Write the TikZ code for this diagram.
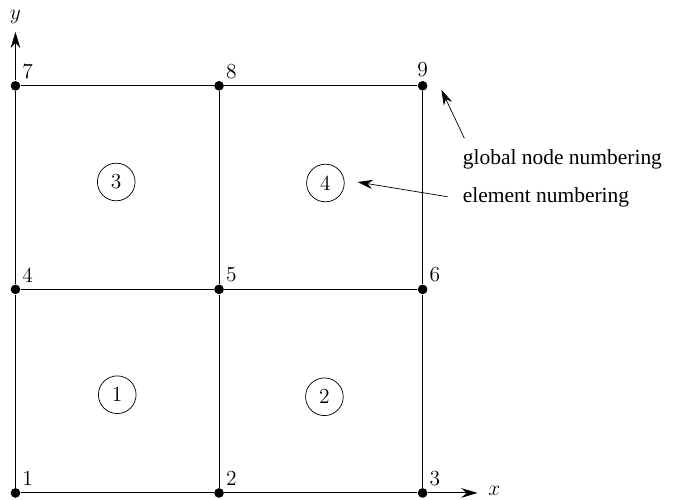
\documentclass[tikz,border=0pt]{standalone}
\usepackage{fontspec}
\newfontfamily\timesfont{Liberation Serif}
\usetikzlibrary{arrows.meta}

\begin{document}
\begin{tikzpicture}[
dotnode/.style={circle, fill=black, minimum size=1.9mm, inner sep=0pt},
numlabel/.style={font=\fontsize{12}{14}\selectfont, inner sep=1.5pt},
elemnode/.style={circle, draw=black, thin, minimum size=7.4mm, inner sep=0pt, font=\fontsize{12}{14}\selectfont},
textnode/.style={anchor=west, inner sep=0pt, font=\timesfont\fontsize{12}{14}\selectfont},
line width=0.6pt
]
    \useasboundingbox (-0.304,-0.138) rectangle (12.92,9.686);

    \node [dotnode, label={[numlabel]above right:1}] (n1) at (0,0) {};
    \node [dotnode, label={[numlabel]above right:2}] (n2) at (4,0) {};
    \node [dotnode, label={[numlabel]above right:3}] (n3) at (8,0) {};

    \node [dotnode, label={[numlabel]above right:4}] (n4) at (0,4) {};
    \node [dotnode, label={[numlabel]above right:5}] (n5) at (4,4) {};
    \node [dotnode, label={[numlabel]above right:6}] (n6) at (8,4) {};

    \node [dotnode, label={[numlabel]above right:7}] (n7) at (0,8) {};
    \node [dotnode, label={[numlabel]above right:8}] (n8) at (4,8) {};
    \node [dotnode, label={[numlabel]above:9}] (n9) at (8,8) {};

    \coordinate (xtip) at (9.08,0);
    \coordinate (ytip) at (0,9.06);
    \node [font=\fontsize{12}{14}\selectfont] (xlab) at (9.41,0.04) {$x$};
    \node [font=\fontsize{12}{14}\selectfont] (ylab) at (0,9.36) {$y$};

    \node [elemnode] (e1) at (2.0,1.93) {1};
    \node [elemnode] (e2) at (6.07,1.89) {2};
    \node [elemnode] (e3) at (1.98,6.11) {3};
    \node [elemnode] (e4) at (6.09,6.09) {4};

    % grid lines
    \draw (n1) -- (n2) -- (n3);
    \draw (n4) -- (n5) -- (n6);
    \draw (n7) -- (n8) -- (n9);
    \draw (n1) -- (n4) -- (n7);
    \draw (n2) -- (n5) -- (n8);
    \draw (n3) -- (n6) -- (n9);

    % axes
    \draw [-{Stealth[length=3.2mm, width=1.9mm]}] (n3) -- (xtip);
    \draw [-{Stealth[length=3.2mm, width=1.9mm]}] (n7) -- (ytip);

    % annotations
    \node [textnode] (tglobal) at (8.78,6.56) {global node numbering};
    \node [textnode] (telem) at (8.78,5.80) {element numbering};
    \coordinate (gstart) at (8.82,6.97);
    \coordinate (gtip) at (8.37,7.92);
    \coordinate (estart) at (8.49,5.82);
    \coordinate (etip) at (6.72,6.11);
    \draw [thin, -{Stealth[length=3mm, width=1.8mm]}] (gstart) -- (gtip);
    \draw [thin, -{Stealth[length=3mm, width=1.8mm]}] (estart) -- (etip);
\end{tikzpicture}
\end{document}
